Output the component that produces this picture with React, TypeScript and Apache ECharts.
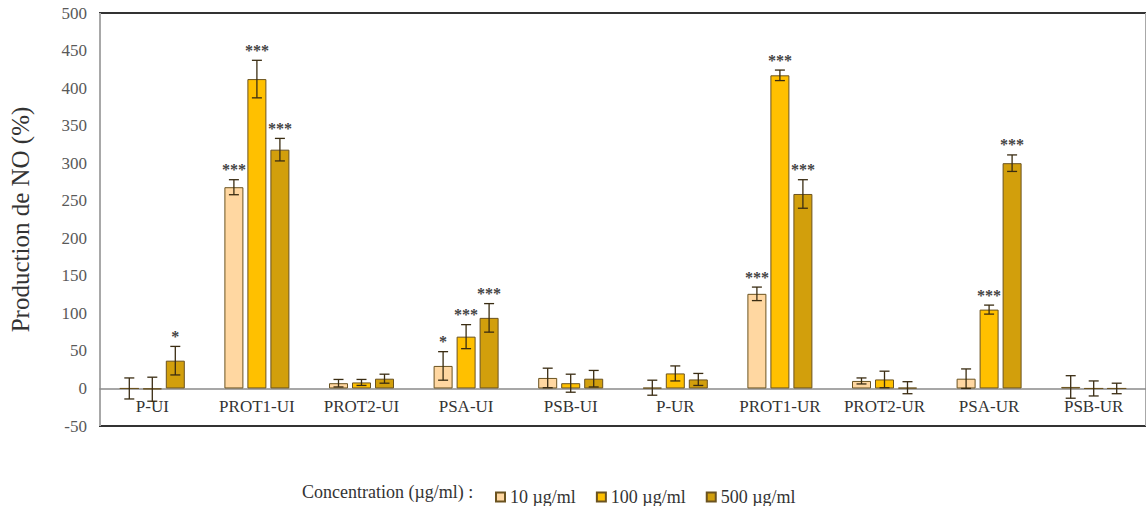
import React, { useEffect, useRef } from "react";
import * as echarts from "echarts";

const categories = ["P-UI", "PROT1-UI", "PROT2-UI", "PSA-UI", "PSB-UI", "P-UR", "PROT1-UR", "PROT2-UR", "PSA-UR", "PSB-UR"];
const seriesNames = ["10 µg/ml", "100 µg/ml", "500 µg/ml"];
const c10 = [0, 268, 7, 30, 14, 1, 126, 10, 13, 2];
const c100 = [-1, 412, 8, 69, 7, 20, 417, 12, 105, 0];
const c500 = [37, 318, 13, 94, 13, 12, 259, 1, 300, 0];
const err10 = [14, 10, 5, 19, 13, 10, 9, 4, 13, 15];
const err100 = [16, 25, 4, 16, 12, 10, 7, 11, 6, 10];
const err500 = [19, 15, 6, 19, 11, 8, 19, 8, 11, 7];
const sig10 = ["", "***", "", "*", "", "", "***", "", "", ""];
const sig100 = ["", "***", "", "***", "", "", "***", "", "***", ""];
const sig500 = ["*", "***", "", "***", "", "", "***", "", "***", ""];
const yTicks = { min: -50, max: 500, interval: 50 };

const colors = ["#FFD7A1", "#FFC000", "#D29F0C"];
const FONT = "Liberation Serif";
const BAR_W = 19;
const GAP = 4;

export default function App() {
  const ref = useRef<HTMLDivElement>(null);
  useEffect(() => {
    if (!ref.current) return;
    const chart = echarts.init(ref.current, undefined, { renderer: "svg" });
    const values = [c10, c100, c500];
    const errs = [err10, err100, err500];
    const sigs = [sig10, sig100, sig500];

    const barSeries = values.map((vals, i) => ({
      name: seriesNames[i],
      type: "bar",
      data: vals,
      barWidth: BAR_W,
      barGap: `${(GAP / BAR_W) * 100}%`,
      itemStyle: { color: colors[i], borderColor: "#6b5320", borderWidth: 1 },
      z: 2,
    }));

    const errSeries = values.map((vals, i) => ({
      type: "custom",
      name: "err" + i,
      z: 5,
      silent: true,
      encode: { x: 0, y: 1 },
      data: vals.map((v, k) => [k, v, errs[i][k]]),
      renderItem: (params: any, api: any) => {
        const x = api.value(0);
        const v = api.value(1);
        const e = api.value(2);
        const off = (i - 1) * (BAR_W + GAP);
        const top = api.coord([x, v + e]);
        const bot = api.coord([x, v - e]);
        const cx = top[0] + off;
        const cap = 5;
        const ls = { stroke: "#3a2c12", lineWidth: 1.3 };
        const children: any[] = [
          { type: "line", shape: { x1: cx, y1: top[1], x2: cx, y2: bot[1] }, style: ls },
          { type: "line", shape: { x1: cx - cap, y1: top[1], x2: cx + cap, y2: top[1] }, style: ls },
          { type: "line", shape: { x1: cx - cap, y1: bot[1], x2: cx + cap, y2: bot[1] }, style: ls },
        ];
        const s = sigs[i][params.dataIndex];
        if (s) {
          children.push({
            type: "text",
            style: {
              text: s,
              x: cx,
              y: top[1] - 2,
              align: "center",
              verticalAlign: "bottom",
              fontFamily: FONT,
              fontSize: 16,
              fontWeight: "bold",
              fill: "#444444",
            },
          });
        }
        return { type: "group", children };
      },
    }));

    chart.setOption({
      animation: false,
      backgroundColor: "#ffffff",
      textStyle: { fontFamily: FONT },
      grid: {
        left: 97,
        top: 13,
        width: 1056,
        height: 413,
        show: true,
        borderColor: "#333333",
        borderWidth: 2,
        backgroundColor: "transparent",
      },
      legend: {
        data: seriesNames,
        left: 490,
        top: 483,
        icon: "rect",
        itemWidth: 9,
        itemHeight: 9,
        itemGap: 20,
        textStyle: { fontFamily: FONT, fontSize: 18, color: "#333" },
      },
      graphic: [
        {
          type: "text",
          left: 302,
          top: 483,
          style: { text: "Concentration (µg/ml) :", fontFamily: FONT, fontSize: 18, fill: "#333" },
        },
      ],
      xAxis: {
        type: "category",
        data: categories,
        axisLine: { onZero: true, lineStyle: { color: "#8a8a8a", width: 1.5 } },
        axisTick: { show: false },
        axisLabel: { interval: 0, fontFamily: FONT, fontSize: 17, color: "#333", margin: -28 },
        splitLine: {
          show: true,
          interval: (index: number) => index === 5,
          lineStyle: { color: "#a8a8a8", width: 2 },
        },
      },
      yAxis: {
        type: "value",
        min: yTicks.min,
        max: yTicks.max,
        interval: yTicks.interval,
        name: "Production de NO (%)",
        nameLocation: "middle",
        nameGap: 67,
        nameTextStyle: { fontFamily: FONT, fontSize: 25, color: "#333" },
        axisLine: { show: false },
        axisTick: { show: false },
        splitLine: { show: false },
        axisLabel: { fontFamily: FONT, fontSize: 17, color: "#595959", margin: 13 },
      },
      series: [...barSeries, ...errSeries],
    });
    return () => chart.dispose();
  }, []);
  return <div ref={ref} style={{ position: "fixed", left: 0, top: 0, width: 1146, height: 506 }} />;
}
